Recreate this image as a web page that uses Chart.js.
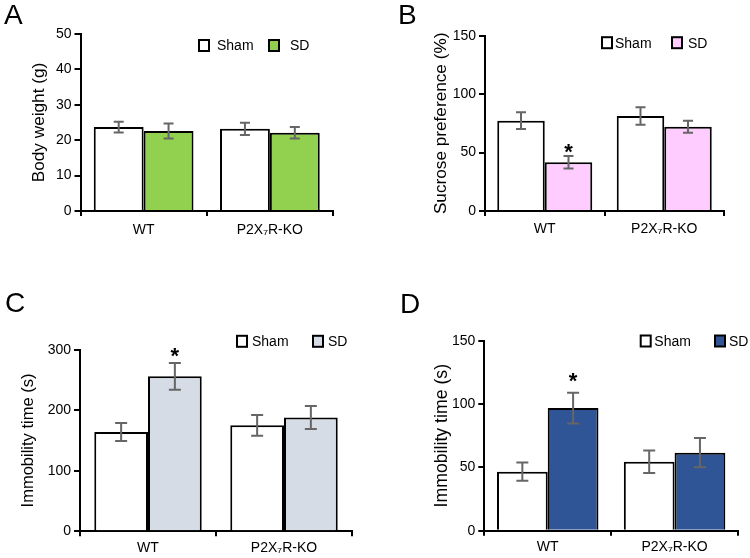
<!DOCTYPE html>
<html><head><meta charset="utf-8">
<script src="https://cdn.jsdelivr.net/npm/chart.js@4.4.1/dist/chart.umd.min.js"></script>
<style>
html,body{margin:0;padding:0;background:#fff;}
#wrap{position:relative;width:750px;height:558px;overflow:hidden;}
.panel{position:absolute;width:375px;height:279px;}
.lbl{position:absolute;font-family:'Liberation Sans',Arial,sans-serif;font-size:28px;color:#000;line-height:1;}
</style></head><body>
<div id="wrap">
<div class="panel" style="left:0;top:0"><canvas id="cA" width="375" height="279"></canvas></div>
<div class="panel" style="left:375px;top:0"><canvas id="cB" width="375" height="279"></canvas></div>
<div class="panel" style="left:0;top:279px"><canvas id="cC" width="375" height="279"></canvas></div>
<div class="panel" style="left:375px;top:279px"><canvas id="cD" width="375" height="279"></canvas></div>
<div class="lbl" style="left:4px;top:1px">A</div>
<div class="lbl" style="left:398px;top:1px">B</div>
<div class="lbl" style="left:5px;top:289px">C</div>
<div class="lbl" style="left:400px;top:290px">D</div>
</div>
<script>
// ---- data ----
const categories = ['WT', 'P2X\u2087R-KO'];
const seriesLabels = ['Sham', 'SD'];

// A: body weight (g)
const weightSham = [23.7, 23.2];
const weightSD = [22.6, 22.1];
const weightShamErr = [1.5, 1.7];
const weightSDErr = [2.1, 1.6];
const weightTicks = [0, 10, 20, 30, 40, 50];
const weightSig = [false, false];

// B: sucrose preference (%)
const sucroseSham = [77.3, 81.3];
const sucroseSD = [41.7, 72.1];
const sucroseShamErr = [7.1, 7.5];
const sucroseSDErr = [5.4, 5.1];
const sucroseTicks = [0, 50, 100, 150];
const sucroseSig = [true, false];

// C: immobility time (s), TST
const tstSham = [164, 175];
const tstSD = [256, 188];
const tstShamErr = [15, 17];
const tstSDErr = [22, 19];
const tstTicks = [0, 100, 200, 300];
const tstSig = [true, false];

// D: immobility time (s), FST
const fstSham = [46.6, 54.5];
const fstSD = [96.8, 61.6];
const fstShamErr = [7.2, 8.9];
const fstSDErr = [12.2, 11.6];
const fstTicks = [0, 50, 100, 150];
const fstSig = [true, false];

Chart.defaults.font.family = "'Liberation Sans', Arial, sans-serif";
Chart.defaults.color = '#000';

const overlay = {
  id: 'overlay',
  afterDatasetsDraw(chart, args, o) {
    const ctx = chart.ctx;
    const ys = chart.scales.y;
    chart.data.datasets.forEach((ds, di) => {
      const meta = chart.getDatasetMeta(di);
      meta.data.forEach((bar, i) => {
        const v = ds.data[i], e = ds.errors[i];
        const x = bar.x;
        const yT = ys.getPixelForValue(v + e), yB = ys.getPixelForValue(v - e);
        ctx.save();
        ctx.strokeStyle = '#666';
        ctx.lineWidth = 2;
        ctx.beginPath();
        ctx.moveTo(x, yT); ctx.lineTo(x, yB);
        ctx.moveTo(x - o.cap, yT); ctx.lineTo(x + o.cap, yT);
        ctx.moveTo(x - o.cap, yB); ctx.lineTo(x + o.cap, yB);
        ctx.stroke();
        if (ds.sig && ds.sig[i]) {
          ctx.fillStyle = '#000';
          ctx.font = "bold 22px 'Liberation Sans', Arial, sans-serif";
          ctx.textAlign = 'center';
          ctx.textBaseline = 'alphabetic';
          ctx.fillText('*', x, yT - o.starGap + 12);
        }
        ctx.restore();
      });
    });
    // legend
    ctx.save();
    ctx.font = "14px 'Liberation Sans', Arial, sans-serif";
    ctx.textBaseline = 'middle';
    ctx.textAlign = 'left';
    chart.data.datasets.forEach((ds, di) => {
      const bx = o.legBox[di], tx = o.legText[di], cy = o.legY;
      ctx.fillStyle = ds.backgroundColor;
      ctx.fillRect(bx, cy - 5.5, 10, 11);
      ctx.strokeStyle = '#000';
      ctx.lineWidth = 2;
      ctx.strokeRect(bx, cy - 5.5, 10, 11);
      ctx.fillStyle = '#000';
      ctx.fillText(ds.label, tx, cy + 1);
    });
    ctx.restore();
  }
};

function makeChart(id, p) {
  const tickVals = p.ticks;
  return new Chart(document.getElementById(id), {
    type: 'bar',
    data: {
      labels: categories,
      datasets: [
        { label: seriesLabels[0], data: p.sham, errors: p.shamErr, backgroundColor: '#ffffff',
          borderColor: '#000', borderWidth: 2, categoryPercentage: p.catPct, barPercentage: 1 },
        { label: seriesLabels[1], data: p.sd, errors: p.sdErr, sig: p.sig, backgroundColor: p.color,
          borderColor: '#000', borderWidth: 2, categoryPercentage: p.catPct, barPercentage: 1 }
      ]
    },
    options: {
      responsive: false,
      animation: false,
      layout: { padding: p.pad },
      plugins: {
        legend: { display: false },
        tooltip: { enabled: false },
        overlay: p.overlay
      },
      scales: {
        x: {
          grid: { drawOnChartArea: false, drawTicks: true, tickLength: 5, color: '#000', lineWidth: 2, offset: true },
          border: { display: true, color: '#000', width: 2 },
          ticks: { font: { size: 14 }, color: '#000', padding: p.xPad, maxRotation: 0, autoSkip: false },
          afterFit(s) { s.height = p.xHeight; }
        },
        y: {
          min: tickVals[0], max: tickVals[tickVals.length - 1],
          grid: { drawOnChartArea: false, drawTicks: true, tickLength: 6, color: '#000', lineWidth: 2 },
          border: { display: true, color: '#000', width: 2 },
          ticks: { font: { size: 14 }, color: '#000', padding: 3 },
          afterBuildTicks(s) { s.ticks = tickVals.map(v => ({ value: v })); },
          title: { display: true, text: p.title, font: { size: p.titleSize }, color: '#000', padding: 0 },
          afterFit(s) { s.width = p.yWidth; }
        }
      }
    },
    plugins: [overlay]
  });
}

makeChart('cA', {
  sham: weightSham, sd: weightSD, shamErr: weightShamErr, sdErr: weightSDErr, sig: weightSig,
  ticks: weightTicks, color: '#92D050', title: 'Body weight (g)', titleSize: 17.2,
  catPct: 0.79, yWidth: 51.2, pad: { left: 29.3, right: 42, top: 34, bottom: 28 },
  xHeight: 40, xPad: 6,
  overlay: { cap: 5, starGap: 9, legBox: [199, 269], legText: [217, 290], legY: 45.5 }
});
makeChart('cB', {
  sham: sucroseSham, sd: sucroseSD, shamErr: sucroseShamErr, sdErr: sucroseSDErr, sig: sucroseSig,
  ticks: sucroseTicks, color: '#FFCCFF', title: 'Sucrose preference (%)', titleSize: 17.2,
  catPct: 0.795, yWidth: 53.6, pad: { left: 56.4, right: 26, top: 35.7, bottom: 28 },
  xHeight: 40, xPad: 5,
  overlay: { cap: 5, starGap: 8.5, legBox: [227, 297], legText: [240, 313], legY: 42.7 }
});
makeChart('cC', {
  sham: tstSham, sd: tstSD, shamErr: tstShamErr, sdErr: tstSDErr, sig: tstSig,
  ticks: tstTicks, color: '#D6DCE5', title: 'Immobility time (s)', titleSize: 16.5,
  catPct: 0.79, yWidth: 61.9, pad: { left: 18.1, right: 23, top: 70.7, bottom: 0.7 },
  xHeight: 26, xPad: 3,
  overlay: { cap: 6, starGap: 12, legBox: [237, 313], legText: [252, 328], legY: 62.3 }
});
makeChart('cD', {
  sham: fstSham, sd: fstSD, shamErr: fstShamErr, sdErr: fstSDErr, sig: fstSig,
  ticks: fstTicks, color: '#2F5597', title: 'Immobility time (s)', titleSize: 17.7,
  catPct: 0.8, yWidth: 53.2, pad: { left: 56.1, right: 12, top: 61.7, bottom: 1.3 },
  xHeight: 26, xPad: 3,
  overlay: { cap: 6, starGap: 16.6, legBox: [265.7, 340], legText: [279.3, 354], legY: 62 }
});
</script>
</body></html>
